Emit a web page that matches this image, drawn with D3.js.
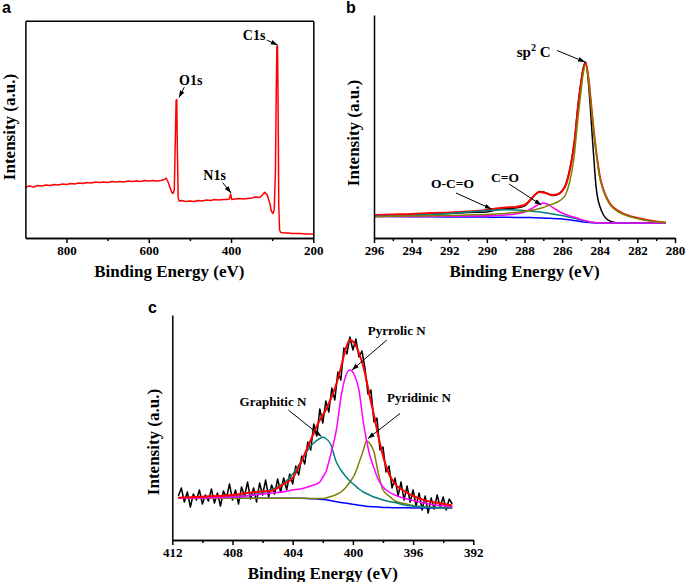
<!DOCTYPE html>
<html>
<head>
<meta charset="utf-8">
<title>XPS spectra</title>
<style>
body {
  margin: 0;
  padding: 0;
  background: #fff;
}
svg text {
  font-family: "Liberation Serif", "Times New Roman", serif;
  font-weight: bold;
  fill: #000;
}
.tag {
  font-family: "Liberation Sans", Arial, sans-serif !important;
  font-size: 16px;
}
.tick text {
  font-size: 13px;
}
.axis path, .axis line {
  stroke: #000;
  stroke-width: 1.5;
}
.curve {
  fill: none;
  stroke-linejoin: round;
}
.arrow {
  stroke: #000;
  stroke-width: 1;
}
</style>
</head>
<body>
<svg id="viz" width="685" height="582"></svg>
<script src="https://d3js.org/d3.v7.min.js"></script>
<script>

// (a) survey spectrum
var energiesA = [
  900, 890, 880, 870, 860, 850, 840, 830, 820, 810,
  800, 790, 780, 770, 760, 750, 740, 730, 720, 710,
  700, 690, 680, 670, 660, 650, 640, 630, 620, 610,
  600, 590, 580, 570, 562, 558, 553, 548, 544, 541,
  538, 535.5, 533.5, 532, 530.5, 528.5, 526, 520, 510, 500,
  490, 480, 470, 460, 450, 440, 430, 420, 410, 404,
  401, 398, 390, 380, 370, 360, 350, 340, 330, 324,
  318, 312, 306, 302, 298, 295, 292, 290, 288.5, 287,
  285.5, 284, 282, 279, 270, 260, 250, 240, 230, 220,
  210, 200
]
var surveyA = [
  51, 52, 51, 52.5, 52, 53, 52.5, 53.5, 53, 54,
  53.5, 54.5, 54, 55, 54.5, 55.5, 55, 56, 55.5, 56,
  55.5, 56.5, 56, 56.5, 56, 57, 56.5, 57, 56.5, 57.5,
  57, 57.5, 57, 57.5, 58.5, 60, 56, 50, 45.5, 44.5,
  48, 98, 138, 138.5, 88, 40, 37, 37.5, 36.5, 37,
  36.5, 37.5, 37, 38, 37.5, 38.5, 38, 38.5, 38.5, 39,
  44, 38.5, 39, 39.5, 39, 39.5, 40, 41, 40.5, 43,
  45.7, 43, 35, 27, 24.5, 28, 68, 148, 192, 192,
  128, 33, 8, 5.5, 5, 5, 4.5, 4.5, 4.5, 4,
  4, 4
]
var ticksA = [800, 600, 400, 200]
var minorA = [700, 500, 300]

// (b) C 1s
var energiesB = [296, 295, 294, 293, 292, 291, 290, 289.5, 289, 288.5,
  288, 287.7, 287.4, 287.2, 287, 286.8, 286.5, 286.2, 286, 285.8,
  285.6, 285.4, 285.3, 285.2, 285, 284.9, 284.75, 284.6, 284.5, 284.4,
  284.3, 284.2, 284.1, 284, 283.8, 283.6, 283.4, 283.2, 283, 282.5,
  282, 281.5, 281, 280.5]
var rawB = [22, 23, 22.5, 24, 24.5, 25.5, 26, 28, 29.5, 30,
  32, 37.5, 44, 46.5, 46, 44.5, 42.5, 44, 47, 54,
  68, 90, 105, 125, 156, 168, 176, 155, 130, 102,
  76, 52, 39, 32, 23, 18.5, 16.5, 15.5, 15, 15,
  15, 15, 15, 15]
var fitB = [23, 23.5, 24, 25, 25.5, 26.5, 28, 29.5, 30.5, 31,
  33, 38, 44, 46, 45.5, 44.5, 43, 44, 47, 53,
  67, 88, 103, 123, 154, 166, 175, 160, 142, 122,
  104, 88, 74, 62, 48, 39, 33, 29.5, 27, 22.5,
  20, 18, 16.5, 15.5]
var sp2B = [21.5, 21.7, 22, 22.3, 22.5, 23, 23.5, 24, 24.5, 25.5,
  26.5, 27.5, 28.5, 29.5, 30.5, 32, 34, 36.5, 39, 44,
  56, 76, 92, 112, 146, 162, 173, 159, 141, 121,
  103, 87, 73, 61, 47, 38, 32, 28.5, 26, 22,
  19.5, 17.5, 16.2, 15.3]
var coB = [21.5, 21.5, 21.5, 21.7, 21.8, 22, 22.3, 22.5, 23, 24,
  26, 28.5, 32, 34, 35, 34, 30.5, 27, 25, 23.5,
  22, 21, 20.5, 20, 18.5, 18, 17.2, 16.5, 16, 15.7,
  15.5, 15.3, 15.2, 15, 15, 15, 15, 15, 15, 15,
  15, 15, 15, 15]
var ocoB = [21.5, 22, 22.5, 23.5, 24.5, 26, 27.5, 28, 28.2, 28,
  27.5, 27, 26.5, 26, 25.5, 25, 24, 23, 22.5, 21.7,
  20.8, 20, 19.5, 19, 18, 17.5, 17, 16.4, 16, 15.7,
  15.5, 15.3, 15.2, 15, 15, 15, 15, 15, 15, 15,
  15, 15, 15, 15]
var bgB = [21.5, 21.4, 21.3, 21.2, 21.1, 21, 20.9, 20.8, 20.7, 20.6,
  20.5, 20.4, 20.2, 20.1, 20, 19.8, 19.5, 19.2, 19, 18.6,
  18.2, 17.6, 17.3, 17, 16.4, 16.1, 15.8, 15.5, 15.4, 15.3,
  15.2, 15.1, 15, 15, 15, 15, 15, 15, 15, 15,
  15, 15, 15, 15]
var ticksB = [296, 294, 292, 290, 288, 286, 284, 282, 280]
var minorB = [295, 293, 291, 289, 287, 285, 283, 281]

// (c) N 1s
var energiesRawC = [411.6, 411.4, 411.2, 411.0, 410.8, 410.6, 410.4, 410.2, 410.0, 409.8,
  409.6, 409.4, 409.2, 409.0, 408.8, 408.6, 408.4, 408.2, 408.0, 407.8,
  407.6, 407.4, 407.2, 407.0, 406.8, 406.6, 406.4, 406.2, 406.0, 405.8,
  405.6, 405.4, 405.2, 405.0, 404.8, 404.6, 404.4, 404.2, 404.0, 403.8,
  403.6, 403.4, 403.2, 403.0, 402.8, 402.6, 402.4, 402.2, 402.0, 401.8,
  401.6, 401.4, 401.2, 401.0, 400.8, 400.6, 400.4, 400.2, 400.0, 399.8,
  399.6, 399.4, 399.2, 399.0, 398.8, 398.6, 398.4, 398.2, 398.0, 397.8,
  397.6, 397.4, 397.2, 397.0, 396.8, 396.6, 396.4, 396.2, 396.0, 395.8,
  395.6, 395.4, 395.2, 395.0, 394.8, 394.6, 394.4, 394.2, 394.0, 393.8,
  393.6, 393.4]
var rawC = [44, 52, 38, 48, 33, 46, 40, 50, 36, 45,
  39, 51, 37, 47, 34, 49, 42, 56, 40, 50,
  36, 53, 44, 58, 41, 52, 38, 57, 45, 60,
  43, 55, 46, 61, 48, 62, 50, 66, 56, 74,
  65, 84, 76, 98, 90, 116, 104, 131, 117, 139,
  128, 152, 140, 168, 160, 192, 186, 203, 190, 201,
  183, 189, 172, 146, 150, 118, 122, 90, 93, 68,
  74, 52, 62, 44, 58, 40, 54, 38, 50, 34,
  47, 30, 44, 27, 42, 31, 45, 33, 43, 30,
  41, 36]
var energiesC = [411.6, 410, 408, 406.5, 405.5, 404.5, 404, 403.5, 403, 402.6,
  402.2, 402, 401.8, 401.5, 401.1, 400.8, 400.5, 400.2, 399.9, 399.6,
  399.3, 399.1, 398.9, 398.6, 398.3, 398, 397.6, 397.2, 396.6, 396,
  395.3, 394.5, 393.4]
var fitC = [42.3, 43.3, 45, 48, 49, 57, 62, 76, 93, 107,
  120, 125, 130, 140, 156, 172, 190, 200, 197, 187,
  173, 160, 145, 125, 103, 84, 66, 56, 49, 44,
  40, 37.5, 34.5]
var pyrrolicC = [41.7, 42, 43, 45, 46.7, 48.5, 50, 51, 53, 55,
  58, 63, 68, 84, 110, 142, 163, 170, 165, 150,
  117, 100, 86, 72, 60, 53, 48, 45, 41.7, 39.5,
  37, 35, 33.3]
var graphiticC = [42, 42.5, 43.5, 45.5, 50, 58, 66, 77, 90, 97,
  101.5, 102.7, 101.5, 96.5, 78, 70, 64, 59, 55, 51,
  48, 46.5, 45, 43, 41.5, 40, 38.5, 37.5, 35, 34,
  33, 32.5, 32.2]
var pyridinicC = [41.7, 41.7, 41.7, 41.7, 41.7, 41.7, 41.7, 41.7, 41.6, 41.5,
  41.5, 41.5, 42, 43.3, 45.5, 48, 52, 58, 65, 77,
  90, 99.3, 97, 88, 66, 50, 44, 39, 36.5, 34.5,
  33, 32.5, 32.2]
var bgC = [41.7, 41.7, 41.7, 41.7, 41.7, 41.7, 41.7, 41.7, 41.5, 41.2,
  40.8, 40.5, 40.2, 39.5, 38.3, 37.5, 36.9, 36.2, 35.5, 34.8,
  34.2, 33.8, 33.5, 33.2, 32.9, 32.6, 32.4, 32.3, 32.2, 32.1,
  32, 32, 32]
var ticksC = [412, 408, 404, 400, 396, 392]
var minorC = [410, 406, 402, 398, 394]


var svg = d3.select('#viz')

svg.append('defs').append('marker')
    .attr('id', 'head')
    .attr('viewBox', '0 0 10 10')
    .attr('refX', 10)
    .attr('refY', 5)
    .attr('markerWidth', 7)
    .attr('markerHeight', 7)
    .attr('orient', 'auto')
  .append('path')
    .attr('d', 'M0,1.5L10,5L0,8.5Z')
    .attr('fill', '#000')

function plot(x, y, es, vs, color, width, curve) {
  var line = d3.line()
      .x(function(d) { return x(d[0]) })
      .y(function(d) { return y(d[1]) })
      .curve(curve || d3.curveLinear)
  svg.append('path')
      .datum(d3.zip(es, vs))
      .attr('class', 'curve')
      .attr('stroke', color)
      .attr('stroke-width', width)
      .attr('d', line)
}

function frame(x, y, majors, minors, boxed) {
  var y0 = y.range()[0], x0 = x.range()[0]
  svg.append('g')
      .attr('class', 'axis')
      .attr('transform', 'translate(0,' + y0 + ')')
      .call(d3.axisBottom(x).tickValues(minors).tickSize(3).tickSizeOuter(0).tickFormat(''))
  svg.append('g')
      .attr('class', 'axis')
      .attr('transform', 'translate(0,' + y0 + ')')
      .call(d3.axisBottom(x).tickValues(majors).tickSize(5).tickSizeOuter(0).tickPadding(3).tickFormat(d3.format('d')))
  svg.append('g')
      .attr('class', 'axis')
      .attr('transform', 'translate(' + x0 + ',0)')
      .call(d3.axisLeft(y).tickValues([]).tickSizeOuter(0))
  if (boxed) {
    svg.append('g')
        .attr('class', 'axis')
        .attr('transform', 'translate(0,' + y.range()[1] + ')')
        .call(d3.axisTop(x).tickValues([]).tickSizeOuter(0))
    svg.append('g')
        .attr('class', 'axis')
        .attr('transform', 'translate(' + x.range()[1] + ',0)')
        .call(d3.axisRight(y).tickValues([]).tickSizeOuter(0))
  }
}

function titles(x, y, tag, tagX, tagY, yTitleX, yTitleY) {
  svg.append('text')
      .attr('x', (x.range()[0] + x.range()[1]) / 2)
      .attr('y', y.range()[0] + 38.5)
      .attr('text-anchor', 'middle')
      .style('font-size', '17px')
      .text('Binding Energy (eV)')
  svg.append('text')
      .attr('transform', 'translate(' + yTitleX + ',' + yTitleY + ') rotate(-90)')
      .attr('text-anchor', 'middle')
      .style('font-size', '17px')
      .text('Intensity (a.u.)')
  svg.append('text')
      .attr('class', 'tag')
      .attr('x', tagX)
      .attr('y', tagY)
      .text(tag)
}

// label + arrow, all given in data units of the panel
function note(x, y, label, at, from, to, size, anchor) {
  var t = svg.append('text')
      .attr('x', x(at[0]))
      .attr('y', y(at[1]))
      .attr('text-anchor', anchor || 'middle')
      .style('font-size', size + 'px')
  if (label === 'sp2 C') {
    t.append('tspan').text('sp')
    t.append('tspan').attr('dy', -6).style('font-size', (size - 5) + 'px').text('2')
    t.append('tspan').attr('dy', 6).text(' C')
  } else {
    t.text(label)
  }
  svg.append('line')
      .attr('class', 'arrow')
      .attr('x1', x(from[0])).attr('y1', y(from[1]))
      .attr('x2', x(to[0])).attr('y2', y(to[1]))
      .attr('marker-end', 'url(#head)')
}


// panel a
var xA = d3.scaleLinear().domain([900, 200]).range([25.4, 313.3])
var yA = d3.scaleLinear().domain([0, 217.3]).range([238, 20.7])
plot(xA, yA, energiesA, surveyA, '#ff0000', 1.5)
frame(xA, yA, ticksA, minorA, true)
titles(xA, yA, 'a', 2, 13, 14.5, 127)
note(xA, yA, 'C1s', [344, 198], [313.4, 198], [286.6, 193], 14)
note(xA, yA, 'O1s', [498, 153], [513.7, 150.7], [526.6, 140.5], 14)
note(xA, yA, 'N1s', [440, 58], [420.3, 55.3], [400, 45], 14)

// panel b
var xB = d3.scaleLinear().domain([296, 280]).range([374, 675])
var yB = d3.scaleLinear().domain([0, 223]).range([238, 15])
var smooth = d3.curveMonotoneX
plot(xB, yB, energiesB, rawB, '#000000', 1.5, smooth)
plot(xB, yB, energiesB, fitB, '#ff0000', 2, smooth)
plot(xB, yB, energiesB, bgB, '#0000ff', 1.5, smooth)
plot(xB, yB, energiesB, ocoB, '#008080', 1.5, smooth)
plot(xB, yB, energiesB, coB, '#ff00ff', 1.5, smooth)
plot(xB, yB, energiesB, sp2B, '#808000', 1.5, smooth)
frame(xB, yB, ticksB, minorB, false)
titles(xB, yB, 'b', 346, 13, 359, 133)
note(xB, yB, 'sp2 C', [288.41, 181], [286.27, 187.5], [284.78, 176], 15, 'start')
note(xB, yB, 'C=O', [289.04, 56.5], [288.82, 54], [287.1, 33], 13.5)
note(xB, yB, 'O-C=O', [291.83, 50], [291.64, 45], [289.75, 29], 13.5)

// panel c
var xC = d3.scaleLinear().domain([412, 392]).range([172.3, 473.3])
var yC = d3.scaleLinear().domain([0, 225]).range([540, 315])
plot(xC, yC, energiesRawC, rawC, '#000000', 1.5)
plot(xC, yC, energiesC, bgC, '#0000ff', 1.5, smooth)
plot(xC, yC, energiesC, pyridinicC, '#808000', 1.5, smooth)
plot(xC, yC, energiesC, graphiticC, '#008080', 1.5, smooth)
plot(xC, yC, energiesC, pyrrolicC, '#ff00ff', 1.5, smooth)
plot(xC, yC, energiesC, fitC, '#ff0000', 2, smooth)
frame(xC, yC, ticksC, minorC, false)
titles(xC, yC, 'c', 148, 313, 159, 442)
note(xC, yC, 'Pyrrolic N', [397.09, 205], [397.75, 200], [400.06, 170], 13)
note(xC, yC, 'Graphitic N', [405.31, 134], [404.29, 130], [402.09, 103.5], 13)
note(xC, yC, 'Pyridinic N', [395.61, 138], [396.87, 126.5], [399.0, 101.5], 13)

</script>
</body>
</html>
